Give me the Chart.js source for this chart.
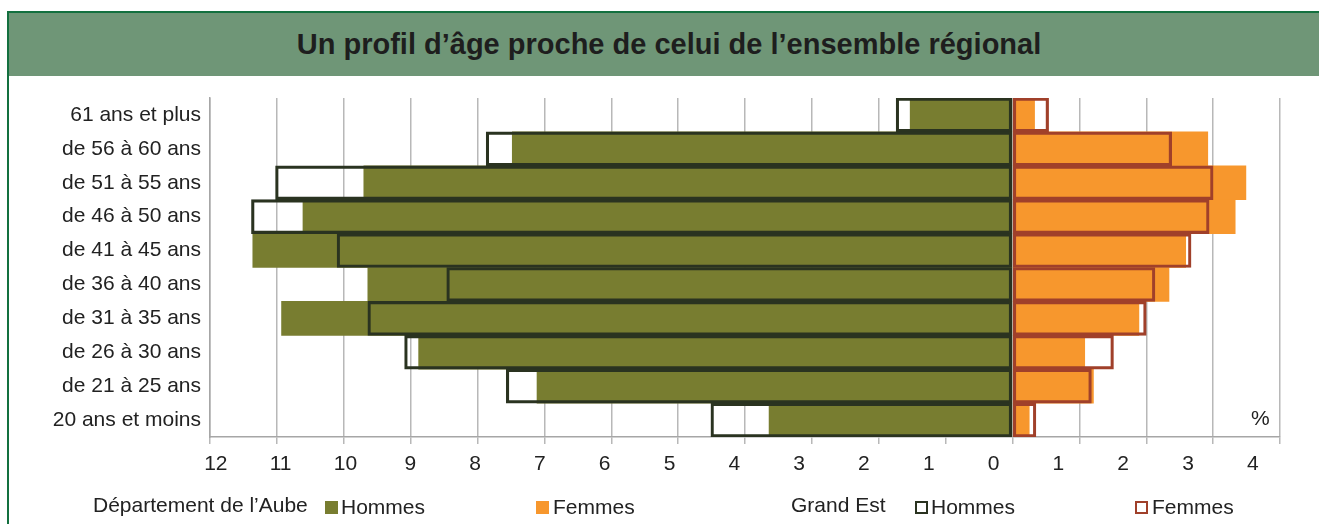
<!DOCTYPE html>
<html lang="fr">
<head>
<meta charset="utf-8">
<title>Un profil d'âge proche de celui de l'ensemble régional</title>
<script src="https://cdn.jsdelivr.net/npm/chart.js@4.4.1/dist/chart.umd.min.js"></script>
<style>
  body { margin: 0; background: #fff; font-family: "Liberation Sans", Arial, sans-serif; color: #222; }
  #wrap { position: relative; width: 1319px; height: 524px; overflow: hidden; }
  #frame { position: absolute; left: 7px; top: 11px; width: 1340px; height: 560px; border: 2px solid #13703f; box-sizing: border-box; }
  #band { position: absolute; left: 9px; top: 13px; width: 1340px; height: 63px; background: #6f9677; }
  #title { position: absolute; left: 0; top: 13px; width: 1338px; height: 63px; line-height: 63px; text-align: center;
           font-weight: bold; font-size: 29px; color: #1e1e1e; }
  #chart { position: absolute; left: 0; top: 0; }
  .txt { position: absolute; font-size: 21px; line-height: 24px; color: #222; white-space: nowrap; }
  .sq { position: absolute; width: 13px; height: 13px; box-sizing: border-box; }
</style>
</head>
<body>
<div id="wrap">
  <div id="frame"></div>
  <div id="band"></div>
  <div id="title">Un profil d’âge proche de celui de l’ensemble régional</div>
  <canvas id="chart" width="1319" height="524"></canvas>
  <div class="txt" style="left:1251px; top:406px;">%</div>

  <div class="txt" style="left:93px; top:493px;">Département de l’Aube</div>
  <div class="sq" style="left:325px; top:501px; background:#787d30;"></div>
  <div class="txt" style="left:341px; top:495px;">Hommes</div>
  <div class="sq" style="left:536px; top:501px; background:#f7972d;"></div>
  <div class="txt" style="left:553px; top:495px;">Femmes</div>

  <div class="txt" style="left:791px; top:493px;">Grand Est</div>
  <div class="sq" style="left:915px; top:501px; border:2.5px solid #2a3320;"></div>
  <div class="txt" style="left:931px; top:495px;">Hommes</div>
  <div class="sq" style="left:1135px; top:501px; border:2.5px solid #a0402a;"></div>
  <div class="txt" style="left:1152px; top:495px;">Femmes</div>
</div>

<script>
// age groups, top to bottom
const ageGroups = [
  '61 ans et plus', 'de 56 à 60 ans', 'de 51 à 55 ans', 'de 46 à 50 ans', 'de 41 à 45 ans',
  'de 36 à 40 ans', 'de 31 à 35 ans', 'de 26 à 30 ans', 'de 21 à 25 ans', '20 ans et moins'
];

// share of each age group, in %
const aubeHommes = [1.53, 7.48, 9.70, 10.61, 11.36, 9.64, 10.93, 8.88, 7.11, 3.64];
const aubeFemmes = [0.33, 2.92, 3.49, 3.33, 2.59, 2.34, 1.89, 1.08, 1.21, 0.25];
const grandEstHommes = [1.74, 7.87, 11.02, 11.38, 10.10, 8.46, 9.64, 9.09, 7.57, 4.51];
const grandEstFemmes = [0.54, 2.38, 3.00, 2.94, 2.67, 2.13, 2.00, 1.51, 1.18, 0.35];

// tick labels of the % axis (men on the left)
const xTicks = [-12, -11, -10, -9, -8, -7, -6, -5, -4, -3, -2, -1, 0, 1, 2, 3, 4];

Chart.defaults.font.family = '"Liberation Sans", Arial, sans-serif';
Chart.defaults.color = '#222';

const neg = (arr) => arr.map((v) => -v);

const barBase = { barPercentage: 1, categoryPercentage: 1, grouped: false, borderSkipped: false };

new Chart(document.getElementById('chart'), {
  type: 'bar',
  data: {
    labels: ageGroups,
    datasets: [
      // outlines (Grand Est) drawn on top
      { ...barBase, label: 'Grand Est Hommes', data: neg(grandEstHommes), order: 1,
        backgroundColor: 'rgba(0,0,0,0)', borderColor: '#2a3320', borderWidth: 2.5 },
      { ...barBase, label: 'Grand Est Femmes', data: grandEstFemmes, order: 1,
        backgroundColor: 'rgba(0,0,0,0)', borderColor: '#a0402a', borderWidth: 2.5 },
      // filled bars (Aube)
      { ...barBase, label: 'Aube Hommes', data: neg(aubeHommes), order: 2,
        backgroundColor: '#787d30', borderWidth: 0 },
      { ...barBase, label: 'Aube Femmes', data: aubeFemmes, order: 2,
        backgroundColor: '#f7972d', borderWidth: 0 },
    ],
  },
  options: {
    indexAxis: 'y',
    responsive: false,
    animation: false,
    layout: { padding: { top: 98, right: 39, left: 0, bottom: 49 } },
    plugins: { legend: { display: false }, tooltip: { enabled: false } },
    scales: {
      y: {
        position: 'left',
        grid: { display: false, drawTicks: false },
        border: { color: '#a6a6a6', width: 1.5 },
        ticks: { font: { size: 21 }, color: '#222', padding: 9 },
        afterFit: (s) => { s.width = 210; },
      },
      x: {
        type: 'linear',
        position: 'bottom',
        weight: 0,
        min: -12,
        max: 4,
        grid: { color: '#b8b8b8', lineWidth: 1.5, tickLength: 7, drawTicks: true },
        border: { color: '#a6a6a6', width: 1.5 },
        ticks: { stepSize: 1, display: false },
        afterFit: (s) => { s.height = 8; },
      },
      // labels of the % axis, sit a bit left of the gridlines like the original
      xLabels: {
        type: 'linear',
        position: 'bottom',
        weight: 1,
        min: -12.09,
        max: 4.42,
        grid: { display: false, drawTicks: false },
        border: { display: false },
        afterBuildTicks: (s) => { s.ticks = xTicks.map((v) => ({ value: v })); },
        ticks: {
          font: { size: 21 },
          color: '#222',
          padding: 7,
          maxRotation: 0,
          autoSkip: false,
          callback: (v) => Math.abs(v),
        },
        afterFit: (s) => { s.height = 30; },
      },
    },
  },
});
</script>
</body>
</html>
